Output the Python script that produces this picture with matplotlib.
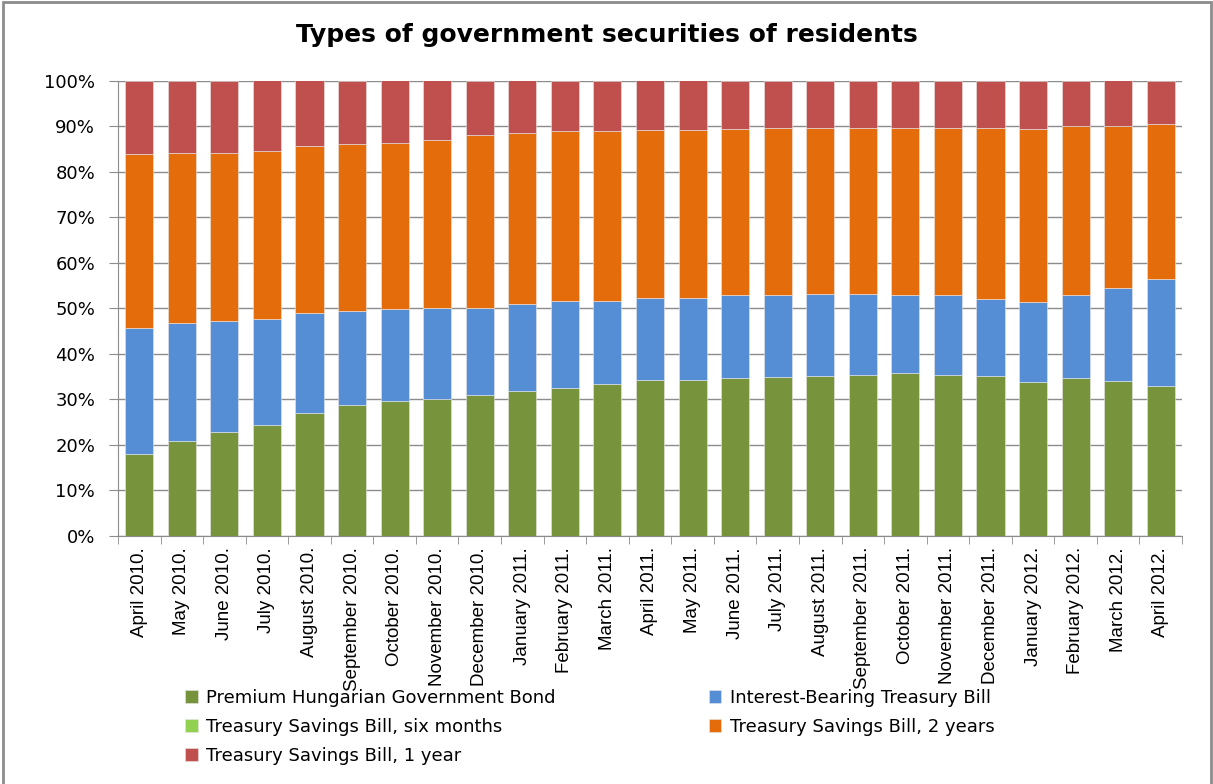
import matplotlib.pyplot as plt
import numpy as np
from matplotlib.patches import Rectangle
from matplotlib.ticker import PercentFormatter

months = ['April 2010.', 'May 2010.', 'June 2010.', 'July 2010.', 'August 2010.',
          'September 2010.', 'October 2010.', 'November 2010.', 'December 2010.',
          'January 2011.', 'February 2011.', 'March 2011.', 'April 2011.',
          'May 2011.', 'June 2011.', 'July 2011.', 'August 2011.', 'September 2011.',
          'October 2011.', 'November 2011.', 'December 2011.', 'January 2012.',
          'February 2012.', 'March 2012.', 'April 2012.']

# shares in percent, bottom to top
premium = [18.0, 20.8, 22.9, 24.3, 26.9, 28.7, 29.6, 30.1, 31.0, 31.8, 32.6, 33.4, 34.3,
           34.3, 34.6, 35.0, 35.2, 35.4, 35.7, 35.4, 35.2, 33.7, 34.6, 34.0, 33.0]
interest = [27.7, 25.9, 24.2, 23.4, 22.1, 20.6, 20.3, 20.0, 19.1, 19.1, 18.9, 18.1, 18.0,
            18.0, 18.2, 17.9, 18.0, 17.8, 17.2, 17.4, 16.8, 17.6, 18.2, 20.5, 23.5]
six_months = [0.0] * 25
two_years = [38.2, 37.4, 37.0, 36.9, 36.6, 36.7, 36.3, 36.9, 38.0, 37.6, 37.4, 37.4, 36.9,
             36.9, 36.6, 36.7, 36.4, 36.4, 36.7, 36.8, 37.6, 38.1, 37.2, 35.5, 33.9]
one_year = [16.1, 15.9, 15.9, 15.4, 14.4, 14.0, 13.8, 13.0, 11.9, 11.5, 11.1, 11.1, 10.8,
            10.8, 10.6, 10.4, 10.4, 10.4, 10.4, 10.4, 10.4, 10.6, 10.0, 10.0, 9.6]

names = ['Premium Hungarian Government Bond', 'Interest-Bearing Treasury Bill',
         'Treasury Savings Bill, six months', 'Treasury Savings Bill, 2 years',
         'Treasury Savings Bill, 1 year']
colors = ['#77933C', '#558ED5', '#92D050', '#E46C0A', '#C0504D']

fig = plt.figure(figsize=(12.13, 7.84), dpi=100)
ax = fig.add_axes([118/1213, 1 - 536/784, (1182 - 118)/1213, (536 - 80.5)/784])

x = np.arange(len(months))
bottom = np.zeros(len(months))
bars = []
for vals, name, c in zip([premium, interest, six_months, two_years, one_year], names, colors):
    v = np.array(vals) / 100
    b = ax.bar(x, v, 0.66, bottom=bottom, color=c, label=name,
               edgecolor='#e8e8e8', linewidth=0.4, zorder=3)
    bars.append(b)
    bottom += v

ax.set_xlim(-0.5, len(months) - 0.5)
ax.set_ylim(0, 1)
ax.set_yticks(np.arange(0, 1.01, 0.1))
ax.yaxis.set_major_formatter(PercentFormatter(1.0, decimals=0))
ax.grid(axis='y', color='#8c8c8c', linewidth=1, zorder=0)
ax.tick_params(axis='y', length=6.5, color='#8c8c8c', labelsize=13, pad=10)

# category ticks sit between the bars
ax.set_xticks(x)
ax.set_xticklabels(months, rotation=90, fontsize=13.5, family='Liberation Sans')
ax.set_xticks(np.arange(-0.5, len(months)), minor=True)
ax.tick_params(axis='x', which='major', length=0, pad=8)
ax.tick_params(axis='x', which='minor', length=6, color='#8c8c8c')

for s in ['top', 'right']:
    ax.spines[s].set_visible(False)
for s in ['left', 'bottom']:
    ax.spines[s].set_color('#8c8c8c')

fig.text(0.5, 1 - 35/784, 'Types of government securities of residents',
         ha='center', va='center', fontsize=18, fontweight='bold')

# legend filled row by row: reorder for two columns
order = [0, 2, 4, 1, 3]
fig.legend([bars[i] for i in order], [names[i] for i in order],
           loc='upper left', bbox_to_anchor=(176/1213, 1 - 680/784), ncol=2,
           frameon=False, fontsize=13, handlelength=0.7, handleheight=0.7,
           handletextpad=0.45, labelspacing=0.6, columnspacing=8.5, borderpad=0)

fig.patches.append(Rectangle((3/1213, -0.05), 1208/1213, 1.05 - 1.5/784,
                             transform=fig.transFigure, fill=False,
                             edgecolor='#8c8c8c', linewidth=2))

fig.savefig('out.png', dpi=100)
